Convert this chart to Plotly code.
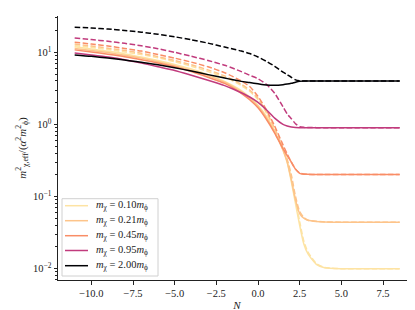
import plotly.graph_objects as go

# ---------------- data ----------------
N = [-11, -10, -9, -8, -7, -6, -5, -4, -3, -2, -1.5, -1, -0.5, 0, 0.5, 1, 1.5, 1.75,
     2, 2.25, 2.5, 2.75, 3, 3.5, 4, 5, 6, 7, 8.5]

labels = ["0.10", "0.21", "0.45", "0.95", "2.00"]
colors = ["#fde3a3", "#fdc48a", "#f98d66", "#c13b7d", "#000004"]

solid_010 = [11.9, 11.1, 10.3, 9.5, 8.6, 7.7, 6.8, 5.85, 4.9, 3.95, 3.45, 2.95, 2.4, 1.85, 1.3, 0.8, 0.45, 0.3,
             0.16, 0.08, 0.04, 0.022, 0.016, 0.0115, 0.0103, 0.0100, 0.0100, 0.0100, 0.0100]
dash_010 = [12.4, 11.7, 10.9, 10.1, 9.3, 8.4, 7.4, 6.4, 5.4, 4.5, 4.0, 3.45, 2.88, 2.2, 1.45, 0.84, 0.45, 0.31,
            0.18, 0.09, 0.045, 0.024, 0.017, 0.0118, 0.0104, 0.0100, 0.0100, 0.0100, 0.0100]
solid_021 = [11.3, 10.6, 9.9, 9.1, 8.3, 7.4, 6.5, 5.6, 4.75, 3.85, 3.35, 2.85, 2.3, 1.78, 1.25, 0.78, 0.44, 0.3,
             0.17, 0.09, 0.058, 0.05, 0.047, 0.0452, 0.0445, 0.0441, 0.0441, 0.0441, 0.0441]
dash_021 = [13.0, 12.2, 11.4, 10.6, 9.7, 8.7, 7.7, 6.7, 5.7, 4.7, 4.15, 3.6, 3.0, 2.3, 1.5, 0.88, 0.47, 0.33,
            0.2, 0.10, 0.062, 0.051, 0.047, 0.0453, 0.0445, 0.0441, 0.0441, 0.0441, 0.0441]
solid_045 = [10.8, 10.1, 9.4, 8.7, 7.9, 7.1, 6.3, 5.4, 4.5, 3.7, 3.2, 2.7, 2.2, 1.7, 1.18, 0.76, 0.46, 0.37,
             0.3, 0.24, 0.21, 0.204, 0.203, 0.2025, 0.2025, 0.2025, 0.2025, 0.2025, 0.2025]
dash_045 = [13.8, 13.0, 12.2, 11.3, 10.4, 9.3, 8.3, 7.3, 6.3, 5.2, 4.6, 4.0, 3.35, 2.45, 1.6, 0.95, 0.52, 0.39,
            0.3, 0.24, 0.212, 0.205, 0.203, 0.2025, 0.2025, 0.2025, 0.2025, 0.2025, 0.2025]
solid_095 = [9.8, 9.2, 8.6, 7.9, 7.1, 6.3, 5.6, 4.8, 4.1, 3.45, 3.1, 2.75, 2.4, 2.02, 1.6, 1.22, 1.0, 0.95,
             0.92, 0.905, 0.9025, 0.9025, 0.9025, 0.9025, 0.9025, 0.9025, 0.9025, 0.9025, 0.9025]
dash_095 = [15.8, 15.0, 14.2, 13.3, 12.3, 11.2, 10.0, 8.8, 7.7, 6.6, 6.0, 5.4, 4.8, 4.3, 3.6, 2.7, 1.75, 1.4,
            1.2, 1.02, 0.93, 0.91, 0.905, 0.9025, 0.9025, 0.9025, 0.9025, 0.9025, 0.9025]
solid_200 = [9.2, 8.8, 8.3, 7.8, 7.3, 6.7, 6.1, 5.5, 4.9, 4.4, 4.15, 3.95, 3.8, 3.65, 3.52, 3.48, 3.55, 3.62,
             3.72, 3.85, 3.96, 4.0, 4.0, 4.0, 4.0, 4.0, 4.0, 4.0, 4.0]
dash_200 = [22.3, 21.7, 21.0, 20.1, 19.0, 17.8, 16.4, 14.9, 13.4, 11.8, 11.1, 10.4, 9.6, 8.6, 7.5, 6.4, 5.3, 4.9,
            4.5, 4.15, 4.03, 4.0, 4.0, 4.0, 4.0, 4.0, 4.0, 4.0, 4.0]

solids = [solid_010, solid_021, solid_045, solid_095, solid_200]
dashes = [dash_010, dash_021, dash_045, dash_095, dash_200]

x_ticks = [-10, -7.5, -5, -2.5, 0, 2.5, 5, 7.5]
x_ticktext = ["\u221210.0", "\u22127.5", "\u22125.0", "\u22122.5", "0.0", "2.5", "5.0", "7.5"]
y_ticks = [0.01, 0.1, 1, 10]
y_ticktext = ["10<sup>\u22122</sup>", "10<sup>\u22121</sup>", "10<sup>0</sup>", "10<sup>1</sup>"]

# ---------------- figure ----------------
FONT = "'Liberation Serif', 'Times New Roman', 'DejaVu Serif', serif"
fig = go.Figure()
for lab, col, s, d in zip(labels, colors, solids, dashes):
    fig.add_trace(go.Scatter(x=N, y=s, mode="lines", line=dict(color=col, width=1.5, shape="spline", smoothing=0.6),
                             showlegend=False, hoverinfo="skip"))
    fig.add_trace(go.Scatter(x=N, y=d, mode="lines",
                             line=dict(color=col, width=1.5, dash="5.5px,2.4px", shape="spline", smoothing=0.6),
                             showlegend=False, hoverinfo="skip"))

minor_vals = [m * 10.0 ** e for e in range(-3, 2) for m in range(2, 10)]
minor_vals = [v for v in minor_vals if 0.0069 < v < 32]

L, R, T, B = 50, 7, 8, 38
W, H = 415, 310
pw, ph = W - L - R, H - T - B

fig.update_layout(
    width=W, height=H,
    margin=dict(l=L, r=R, t=T, b=B),
    paper_bgcolor="white", plot_bgcolor="white",
    font=dict(family=FONT, size=10, color="#222"),
    showlegend=False,
)
fig.update_xaxes(
    range=[-12.0, 9.48], showgrid=False, zeroline=False,
    showline=True, linecolor="#222", linewidth=1,
    ticks="outside", ticklen=3.5, tickwidth=0.8, tickcolor="#222",
    tickvals=x_ticks, ticktext=x_ticktext, tickfont=dict(size=10.5, family=FONT),
    title=dict(text="<i>N</i>", font=dict(size=11, family=FONT), standoff=3),
)
fig.update_yaxes(
    type="log", range=[-2.157, 1.503], showgrid=False, zeroline=False,
    showline=True, linecolor="#222", linewidth=1,
    ticks="outside", ticklen=3.5, tickwidth=0.8, tickcolor="#222",
    tickvals=y_ticks, ticktext=y_ticktext, tickfont=dict(size=10.5, family=FONT),
    minor=dict(ticks="outside", ticklen=2, tickwidth=0.6, tickcolor="#222", tickvals=minor_vals),
    title=dict(text="<i>m</i><sup>2</sup><sub>\u03c7,eff</sub>/(<i>\u03b1</i><sup>2</sup><i>m</i><sup>2</sup><sub>\u03d5</sub>)",
               font=dict(size=11, family=FONT), standoff=4),
)

# custom legend (box, samples, labels)
def px2paper(x, y):
    return (x - L) / pw, (H - B - y) / ph

x0, y0 = px2paper(54, 190.7)
x1, y1 = px2paper(150, 268)
fig.add_shape(type="rect", xref="paper", yref="paper", x0=x0, x1=x1, y0=y1, y1=y0,
              line=dict(color="#d0d0d0", width=1), fillcolor="rgba(255,255,255,0.85)", layer="above")
ys = [197.7, 212.7, 227.7, 242.5, 257.7]
for lab, col, yy in zip(labels, colors, ys):
    a0, b0 = px2paper(57, yy)
    a1, _ = px2paper(80, yy)
    fig.add_shape(type="line", xref="paper", yref="paper", x0=a0, x1=a1, y0=b0, y1=b0,
                  line=dict(color=col, width=1.5), layer="above")
    tx, ty = px2paper(86, yy)
    fig.add_annotation(xref="paper", yref="paper", x=tx, y=ty, xanchor="left", yanchor="middle",
                       text="<i>m</i><sub>\u03c7</sub> = " + lab + "<i>m</i><sub>\u03d5</sub>",
                       showarrow=False, font=dict(size=10.5, family=FONT, color="#222"))

fig.write_html("out.html")
